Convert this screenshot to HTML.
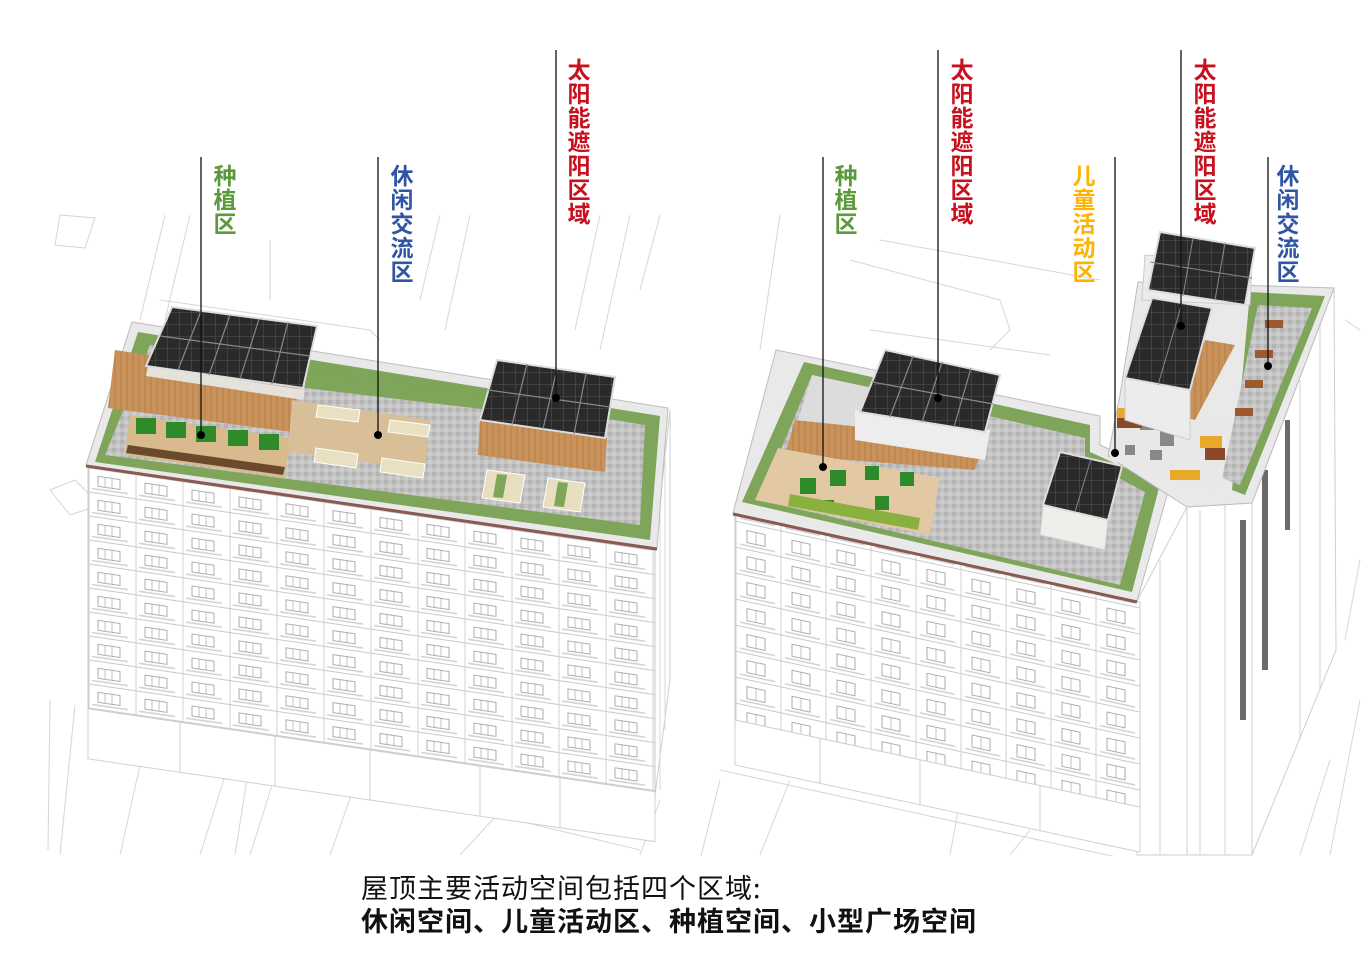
<!DOCTYPE html>
<html><head><meta charset="utf-8">
<style>
html,body{margin:0;padding:0;background:#fff;}
body{width:1372px;height:969px;position:relative;overflow:hidden;font-family:"Liberation Sans","Noto Sans CJK SC",sans-serif;}
svg{position:absolute;left:0;top:0;}
.lb{position:absolute;width:26px;font-size:23px;line-height:24px;font-weight:bold;text-align:center;font-family:"Noto Sans CJK SC",sans-serif;}
.g{color:#5b9a3a}.b{color:#2f55a4}.r{color:#c8101e}.y{color:#ffb300}
.t1{position:absolute;left:361px;top:871px;font-size:27px;line-height:32px;color:#111;font-family:"Noto Sans CJK SC",sans-serif;letter-spacing:1px;}
.t2{position:absolute;left:361px;top:904px;font-size:27px;line-height:32px;color:#111;font-weight:bold;font-family:"Noto Sans CJK SC",sans-serif;letter-spacing:1px;}
</style></head><body>
<svg width="1372" height="969" viewBox="0 0 1372 969">
<defs>
<pattern id="winL" x="88" y="0" width="47" height="24" patternUnits="userSpaceOnUse">
<rect x="0" y="0" width="47" height="24" fill="#fff"/>
<line x1="0" y1="23" x2="47" y2="23" stroke="#c8c8c8" stroke-width="1"/>
<line x1="1" y1="0" x2="1" y2="24" stroke="#d0d0d0" stroke-width="1"/>
<rect x="10" y="6" width="22" height="10" fill="none" stroke="#9a9a9a" stroke-width="0.8"/>
<line x1="17" y1="6" x2="17" y2="16" stroke="#9a9a9a" stroke-width="0.6"/>
<line x1="24" y1="6" x2="24" y2="16" stroke="#9a9a9a" stroke-width="0.6"/>
<line x1="4" y1="19" x2="40" y2="19" stroke="#cfcfcf" stroke-width="1.5"/>
</pattern>
<pattern id="winR" x="735" y="0" width="45" height="26" patternUnits="userSpaceOnUse">
<rect x="0" y="0" width="45" height="26" fill="#fff"/>
<line x1="0" y1="25" x2="45" y2="25" stroke="#c8c8c8" stroke-width="1"/>
<line x1="1" y1="0" x2="1" y2="26" stroke="#d0d0d0" stroke-width="1"/>
<rect x="12" y="6" width="18" height="12" fill="none" stroke="#9a9a9a" stroke-width="0.8"/>
<line x1="21" y1="6" x2="21" y2="18" stroke="#9a9a9a" stroke-width="0.6"/>
<line x1="5" y1="21" x2="40" y2="21" stroke="#cfcfcf" stroke-width="1.5"/>
</pattern>
<pattern id="pav" width="8" height="8" patternUnits="userSpaceOnUse">
<rect width="8" height="8" fill="#c2c2c2"/><rect x="0" y="0" width="4" height="4" fill="#b3b3b3"/><rect x="4" y="4" width="4" height="4" fill="#cdcdcd"/>
</pattern>
<pattern id="sol" width="12" height="12" patternUnits="userSpaceOnUse">
<rect width="12" height="12" fill="#2a2a2a"/><path d="M0 0H12V12" fill="none" stroke="#555" stroke-width="1"/>
</pattern>
<pattern id="wood" width="6" height="6" patternUnits="userSpaceOnUse">
<rect width="6" height="6" fill="#c8925a"/><line x1="1" y1="0" x2="1" y2="6" stroke="#b57e48" stroke-width="1"/>
</pattern>
</defs>

<!-- background context lines -->
<g fill="none" stroke="#d6d6d6" stroke-width="1">
<path d="M60 215 L95 218 L85 248 L55 245 Z M50 490 L75 480 L100 505 L70 515 Z"/>
<path d="M165 215 L140 320 M190 215 L165 320 M440 215 L420 300 M470 215 L445 330 M600 215 L575 330 M630 215 L600 350 M660 215 L640 290"/>
<path d="M160 300 L370 330 L380 340 M270 240 L270 300"/>
<path d="M50 700 L48 850 M75 705 L60 855 M150 720 L120 855 M230 760 L200 855 M250 760 L235 855 M280 760 L250 855 M360 770 L330 855 M390 790 L640 850 M460 855 L520 790 M640 855 L660 800"/>
<path d="M88 700 L655 795 M120 720 L300 745 M330 760 L430 770"/>
<path d="M780 215 L760 350 M880 240 L1100 280 M850 260 L1000 300 L1010 330 L990 350 M870 330 L1050 355 M700 860 L720 780 M760 855 L790 780 M950 855 L960 800 M1010 855 L1030 830"/>
<path d="M735 740 L1140 830 M720 770 L1130 860 M1345 320 L1360 330 M1360 560 L1345 640 M1330 760 L1300 855 M1360 700 L1330 855"/>
</g>

<!-- LEFT BUILDING -->
<polygon points="655,548 670,410 670,680 655,795" fill="#fff" stroke="#cfcfcf"/>
<g stroke="#d8d8d8"><line x1="660" y1="500" x2="660" y2="790"/><line x1="665" y1="450" x2="665" y2="730"/></g>
<g transform="matrix(1,0.146,0,1,0,0)">
<rect x="88" y="454" width="567" height="242" fill="url(#winL)" stroke="#c8c8c8"/>
<rect x="88" y="696" width="567" height="50" fill="#fff" stroke="#d0d0d0"/>
<g stroke="#cfcfcf"><line x1="180" y1="696" x2="180" y2="746"/><line x1="275" y1="696" x2="275" y2="746"/><line x1="370" y1="696" x2="370" y2="746"/><line x1="480" y1="696" x2="480" y2="746"/><line x1="560" y1="696" x2="560" y2="746"/></g>
</g>

<!-- LEFT ROOF -->
<polygon points="132,322 668,408 657,548 86,465" fill="#e9e9e9" stroke="#bdbdbd"/>
<polygon points="138,332 660,416 650,540 95,462" fill="#7ea55a"/>
<polygon points="150,345 645,425 640,525 105,455" fill="url(#pav)"/>
<polygon points="305,370 495,395 490,410 305,388" fill="#7ea55a"/>
<line x1="86" y1="466" x2="657" y2="549" stroke="#8a5a50" stroke-width="3"/>
<polygon points="115,350 300,378 292,432 108,408" fill="url(#wood)"/>
<polygon points="130,415 290,438 285,478 125,455" fill="#d9b98e"/>
<g fill="#2f8a2a">
<rect x="136" y="418" width="20" height="16"/><rect x="166" y="422" width="20" height="16"/><rect x="196" y="426" width="20" height="16"/><rect x="228" y="430" width="20" height="16"/><rect x="259" y="434" width="20" height="16"/>
</g>
<polygon points="128,445 285,467 283,475 126,453" fill="#6a4a2a"/>
<polygon points="292,400 430,420 425,470 288,452" fill="#d8bf98"/>
<polygon points="318,405 360,410 358,422 316,417" fill="#e8e0c0" stroke="#fff"/>
<polygon points="390,420 430,425 428,437 388,432" fill="#e8e0c0" stroke="#fff"/>
<polygon points="316,448 358,454 356,468 314,462" fill="#e8e0c0" stroke="#fff"/>
<polygon points="382,458 425,464 423,478 380,472" fill="#e8e0c0" stroke="#fff"/>
<!-- left solar -->
<polygon points="148,366 305,390 303,400 146,376" fill="#e5e2dc"/>
<polygon points="172,307 317,326 303,388 146,366" fill="url(#sol)" stroke="#ddd" stroke-width="2"/>
<g stroke="#888" stroke-width="1.2"><line x1="201" y1="311" x2="178" y2="370"/><line x1="230" y1="315" x2="209" y2="375"/><line x1="259" y1="319" x2="240" y2="379"/><line x1="288" y1="322" x2="272" y2="384"/><line x1="160" y1="336" x2="310" y2="356"/></g>
<!-- middle solar -->
<polygon points="480,420 607,438 605,472 478,455" fill="url(#wood)"/>
<polygon points="497,360 615,377 605,438 480,420" fill="url(#sol)" stroke="#ddd" stroke-width="2"/>
<g stroke="#888" stroke-width="1.2"><line x1="527" y1="364" x2="512" y2="425"/><line x1="557" y1="369" x2="543" y2="429"/><line x1="586" y1="373" x2="574" y2="434"/><line x1="488" y1="390" x2="610" y2="407"/></g>
<polygon points="487,470 525,475 520,503 482,498" fill="#e8dfc0" stroke="#fff"/>
<polygon points="497,474 507,475 503,498 493,497" fill="#7ea55a"/>
<polygon points="548,478 585,483 580,512 543,507" fill="#e8dfc0" stroke="#fff"/>
<polygon points="558,482 568,483 564,507 554,506" fill="#7ea55a"/>

<!-- RIGHT BUILDING -->
<polygon points="1137,601 1187,507 1187,855 1137,855" fill="#fff" stroke="#cfcfcf"/>
<polygon points="1187,507 1252,503 1252,855 1187,855" fill="#fff" stroke="#cfcfcf"/>
<polygon points="1252,503 1334,288 1336,650 1252,855" fill="#fff" stroke="#cfcfcf"/>
<g stroke="#d0d0d0"><line x1="1200" y1="510" x2="1200" y2="855"/><line x1="1225" y1="505" x2="1225" y2="855"/><line x1="1300" y1="380" x2="1300" y2="740"/><line x1="1320" y1="325" x2="1320" y2="690"/><line x1="1160" y1="560" x2="1160" y2="855"/></g>
<g fill="#6a6a6a"><rect x="1240" y="520" width="6" height="200"/><rect x="1262" y="470" width="6" height="200"/><rect x="1285" y="420" width="5" height="110"/></g>
<g transform="matrix(1,0.215,0,1,0,0)">
<rect x="735" y="357" width="405" height="205" fill="url(#winR)" stroke="#c8c8c8"/>
<rect x="735" y="562" width="405" height="45" fill="#fff" stroke="#d0d0d0"/>
<g stroke="#cfcfcf"><line x1="820" y1="562" x2="820" y2="607"/><line x1="920" y1="562" x2="920" y2="607"/><line x1="1040" y1="562" x2="1040" y2="607"/></g>
</g>

<!-- RIGHT ROOF main -->
<polygon points="776,350 1100,416 1100,445 1172,478 1137,601 733,513" fill="#e9e9e9" stroke="#bdbdbd"/>
<polygon points="804,362 1090,425 1090,452 1160,484 1132,592 742,502" fill="#7ea55a"/>
<polygon points="812,375 1085,438 1085,460 1145,492 1120,585 760,500" fill="url(#pav)"/>
<polygon points="812,375 985,412 975,436 790,445" fill="#dcdcdc"/>
<polygon points="795,420 985,440 975,470 785,455" fill="url(#wood)"/>
<line x1="733" y1="514" x2="1137" y2="602" stroke="#8a5a50" stroke-width="3"/>
<polygon points="778,448 940,478 930,535 755,500" fill="#e2c9a4"/>
<g fill="#2f8a2a">
<rect x="800" y="478" width="16" height="16"/><rect x="830" y="470" width="16" height="16"/><rect x="865" y="466" width="14" height="14"/><rect x="900" y="472" width="14" height="14"/><rect x="820" y="500" width="14" height="12"/><rect x="875" y="496" width="14" height="14"/>
</g>
<polygon points="790,494 920,518 918,530 788,506" fill="#8ab040"/>
<!-- right solar big -->
<polygon points="855,410 990,430 985,460 855,440" fill="#ededed"/>
<polygon points="885,350 1000,375 985,432 860,412" fill="url(#sol)" stroke="#ddd" stroke-width="2"/>
<g stroke="#888" stroke-width="1.2"><line x1="913" y1="356" x2="890" y2="417"/><line x1="942" y1="362" x2="922" y2="422"/><line x1="971" y1="368" x2="954" y2="427"/><line x1="872" y1="382" x2="993" y2="404"/></g>
<!-- small solar -->
<polygon points="1043,505 1108,520 1105,550 1040,535" fill="#f0eeea" stroke="#ccc"/>
<polygon points="1060,452 1122,466 1108,520 1043,505" fill="url(#sol)" stroke="#ddd" stroke-width="2"/>
<line x1="1091" y1="459" x2="1075" y2="512" stroke="#888"/>

<!-- right wing -->
<polygon points="1138,282 1334,288 1252,503 1187,507 1108,456 1120,395" fill="#e9e9e9" stroke="#bdbdbd"/>
<polygon points="1250,292 1325,296 1245,495 1232,490" fill="#7ea55a"/>
<polygon points="1258,305 1312,308 1240,485 1222,478" fill="url(#pav)"/>
<polygon points="1120,400 1225,420 1215,490 1110,460" fill="#e8e8e8"/>
<g fill="#888"><rect x="1140" y="420" width="14" height="10"/><rect x="1160" y="430" width="14" height="16"/><rect x="1125" y="445" width="10" height="10"/><rect x="1150" y="450" width="12" height="10"/></g>
<polygon points="1205,340 1235,345 1195,420 1175,415" fill="url(#wood)"/>
<g fill="#9c5a2e"><rect x="1265" y="320" width="18" height="8"/><rect x="1255" y="350" width="18" height="8"/><rect x="1245" y="380" width="18" height="8"/><rect x="1235" y="408" width="18" height="8"/></g>
<g fill="#e8a82a"><rect x="1117" y="408" width="20" height="10"/><rect x="1200" y="436" width="22" height="12"/><rect x="1170" y="470" width="30" height="10"/></g>
<g fill="#8a4a2a"><rect x="1117" y="418" width="25" height="10"/><rect x="1205" y="448" width="20" height="12"/></g>
<!-- wing solar upper -->
<polygon points="1145,255 1252,262 1250,305 1142,300" fill="#ececec" stroke="#ccc"/>
<polygon points="1160,232 1255,248 1245,305 1148,290" fill="url(#sol)" stroke="#ddd" stroke-width="2"/>
<line x1="1150" y1="262" x2="1252" y2="278" stroke="#888"/>
<line x1="1193" y1="238" x2="1183" y2="296" stroke="#888"/>
<line x1="1225" y1="243" x2="1215" y2="300" stroke="#888"/>
<polygon points="1125,375 1190,390 1190,440 1125,420" fill="#ececec" stroke="#ccc"/>
<polygon points="1152,298 1212,308 1190,390 1125,378" fill="url(#sol)" stroke="#ddd" stroke-width="2"/>
<line x1="1182" y1="303" x2="1158" y2="385" stroke="#888"/>
<rect x="0" y="856" width="1372" height="113" fill="#fff"/>
</svg>

<!-- leader lines and dots -->
<svg width="1372" height="969" viewBox="0 0 1372 969">
<g stroke="#111" stroke-width="1.3">
<line x1="201" y1="157" x2="201" y2="435"/>
<line x1="378" y1="157" x2="378" y2="435"/>
<line x1="556" y1="50" x2="556" y2="398"/>
<line x1="823" y1="157" x2="823" y2="467"/>
<line x1="938" y1="50" x2="938" y2="398"/>
<line x1="1115" y1="157" x2="1115" y2="453"/>
<line x1="1181" y1="50" x2="1181" y2="326"/>
<line x1="1268" y1="157" x2="1268" y2="366"/>
</g>
<g fill="#000">
<circle cx="201" cy="435" r="4"/><circle cx="378" cy="435" r="4"/><circle cx="556" cy="398" r="4"/>
<circle cx="823" cy="467" r="4"/><circle cx="938" cy="398" r="4"/><circle cx="1115" cy="453" r="4"/><circle cx="1181" cy="326" r="4"/><circle cx="1268" cy="366" r="4"/>
</g>
</svg>

<div class="lb g" style="left:212px;top:162px">种<br>植<br>区</div>
<div class="lb b" style="left:389px;top:162px">休<br>闲<br>交<br>流<br>区</div>
<div class="lb r" style="left:566px;top:56px">太<br>阳<br>能<br>遮<br>阳<br>区<br>域</div>
<div class="lb g" style="left:833px;top:162px">种<br>植<br>区</div>
<div class="lb r" style="left:949px;top:56px">太<br>阳<br>能<br>遮<br>阳<br>区<br>域</div>
<div class="lb y" style="left:1071px;top:162px">儿<br>童<br>活<br>动<br>区</div>
<div class="lb r" style="left:1192px;top:56px">太<br>阳<br>能<br>遮<br>阳<br>区<br>域</div>
<div class="lb b" style="left:1275px;top:162px">休<br>闲<br>交<br>流<br>区</div>

<div class="t1">屋顶主要活动空间包括四个区域:</div>
<div class="t2">休闲空间、儿童活动区、种植空间、小型广场空间</div>
</body></html>
